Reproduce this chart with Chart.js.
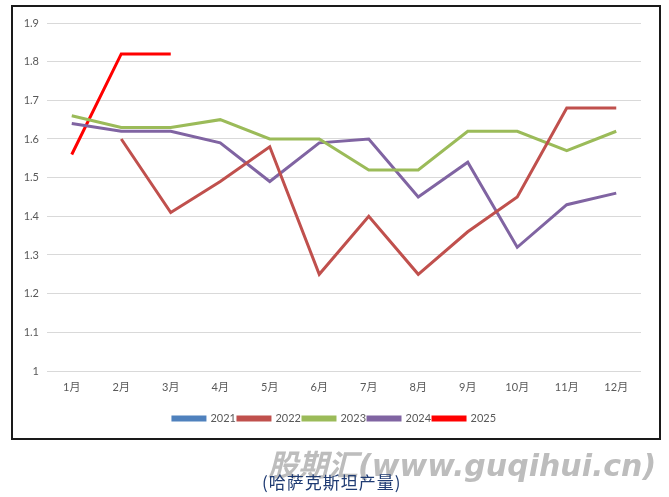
<!DOCTYPE html>
<html>
<head>
<meta charset="utf-8">
<script src="https://cdn.jsdelivr.net/npm/chart.js@4.4.1/dist/chart.umd.min.js"></script>
<style>
  body { margin: 0; background: #fff; width: 669px; height: 497px; overflow: hidden; position: relative; }
  #frame { position: absolute; left: 11px; top: 5px; width: 646px; height: 431px; border: 2px solid #1a1a1a; }
  #wrap { position: absolute; left: 0; top: 0; width: 669px; height: 445px; }
  .mark { position: absolute; left: 268px; top: 441px; font: italic bold 30px "DejaVu Sans", "Noto Sans CJK SC"; color: #bdbdbd; white-space: nowrap; }
  .caption { position: absolute; left: 262px; top: 469px; font: 17px "Noto Sans CJK SC"; letter-spacing: 1px; color: #1f3b73; white-space: nowrap; }
</style>
</head>
<body>
<div id="frame"></div>
<div id="wrap"><canvas id="chart" width="669" height="445"></canvas></div>
<div class="mark">股期汇(www.guqihui.cn)</div>
<div class="caption">(哈萨克斯坦产量)</div>
<script>
// Months
const months = ["1月", "2月", "3月", "4月", "5月", "6月", "7月", "8月", "9月", "10月", "11月", "12月"];

// Production by year
const y2021 = [];
const y2022 = [null, 1.60, 1.41, 1.49, 1.58, 1.25, 1.40, 1.25, 1.36, 1.45, 1.68, 1.68];
const y2023 = [1.66, 1.63, 1.63, 1.65, 1.60, 1.60, 1.52, 1.52, 1.62, 1.62, 1.57, 1.62];
const y2024 = [1.64, 1.62, 1.62, 1.59, 1.49, 1.59, 1.60, 1.45, 1.54, 1.32, 1.43, 1.46];
const y2025 = [1.56, 1.82, 1.82];

const yearLabels = ["2021", "2022", "2023", "2024", "2025"];
const yearColors = ["#4f81bd", "#c0504d", "#9bbb59", "#8064a2", "#ff0000"];
const series = [y2021, y2022, y2023, y2024, y2025];

const font = "Lato, 'Noto Sans CJK SC', sans-serif";

// legend sits a bit right of the plot centre in the original
const shiftLegend = {
  id: 'shiftLegend',
  afterLayout(chart) {
    chart.legend.left += 8;
    chart.legend.right += 8;
  }
};

new Chart(document.getElementById("chart"), {
  type: 'line',
  data: {
    labels: months,
    datasets: series.map((d, i) => ({
      label: yearLabels[i],
      data: d,
      borderColor: yearColors[i],
      backgroundColor: yearColors[i],
      borderWidth: 3,
      pointRadius: 0,
      tension: 0,
      spanGaps: false
    }))
  },
  options: {
    responsive: false,
    animation: false,
    layout: { padding: { left: 12, right: 28, top: 23, bottom: 11 } },
    plugins: {
      legend: {
        position: 'bottom',
        labels: {
          boxWidth: 32,
          boxHeight: 3,
          padding: 2,
          color: '#595959',
          font: { family: font, size: 11 }
        }
      },
      tooltip: { enabled: false }
    },
    scales: {
      x: {
        offset: true,
        grid: { display: false },
        border: { display: false },
        ticks: { color: '#595959', font: { family: font, size: 11 }, maxRotation: 0, padding: 2 },
        afterFit: function(scale) { scale.height = 40; }
      },
      y: {
        min: 1,
        max: 1.9,
        ticks: {
          stepSize: 0.1,
          color: '#595959',
          font: { family: font, size: 11 },
          padding: 8,
          callback: v => String(Number(v.toFixed(1)))
        },
        grid: { color: '#d9d9d9', drawTicks: false },
        border: { display: false },
        afterFit: function(scale) { scale.width = 35; }
      }
    }
  },
  plugins: [shiftLegend]
});
</script>
</body>
</html>
